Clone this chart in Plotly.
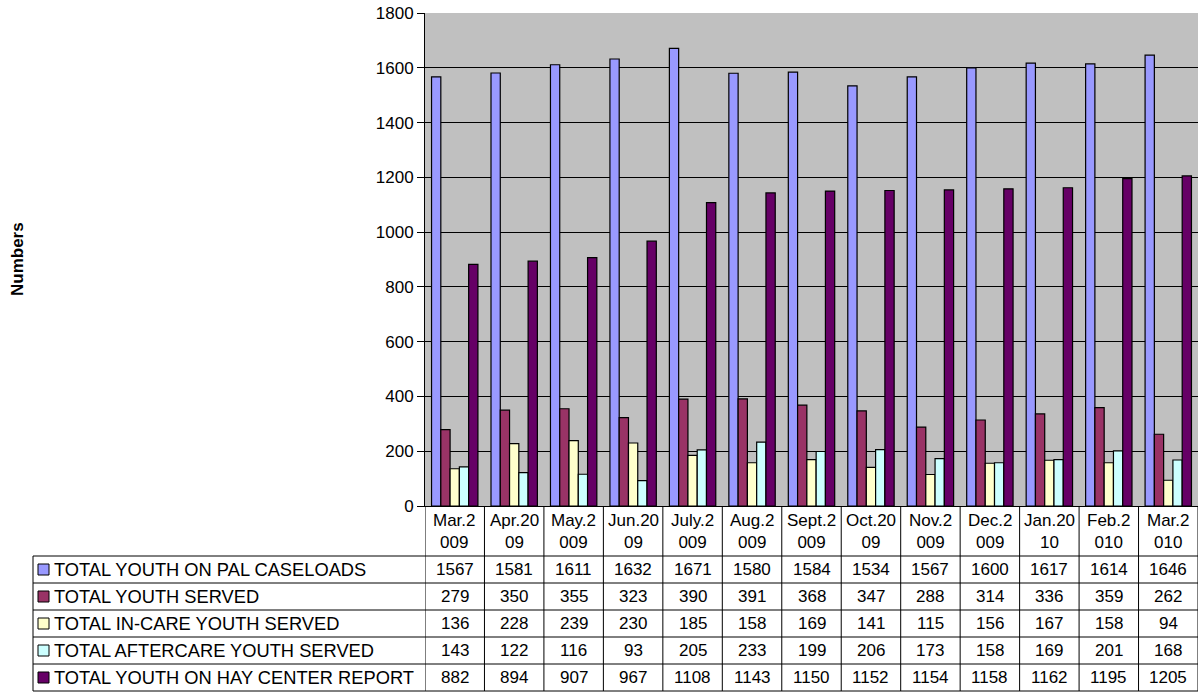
import plotly.graph_objects as go

categories = ["Mar.2009", "Apr.2009", "May.2009", "Jun.2009", "July.2009", "Aug.2009",
              "Sept.2009", "Oct.2009", "Nov.2009", "Dec.2009", "Jan.2010", "Feb.2010", "Mar.2010"]
category_labels = ["Mar.2<br>009", "Apr.20<br>09", "May.2<br>009", "Jun.20<br>09", "July.2<br>009",
                   "Aug.2<br>009", "Sept.2<br>009", "Oct.20<br>09", "Nov.2<br>009", "Dec.2<br>009",
                   "Jan.20<br>10", "Feb.2<br>010", "Mar.2<br>010"]

pal_caseloads = [1567, 1581, 1611, 1632, 1671, 1580, 1584, 1534, 1567, 1600, 1617, 1614, 1646]
youth_served = [279, 350, 355, 323, 390, 391, 368, 347, 288, 314, 336, 359, 262]
incare_served = [136, 228, 239, 230, 185, 158, 169, 141, 115, 156, 167, 158, 94]
aftercare_served = [143, 122, 116, 93, 205, 233, 199, 206, 173, 158, 169, 201, 168]
hay_center = [882, 894, 907, 967, 1108, 1143, 1150, 1152, 1154, 1158, 1162, 1195, 1205]

series_names = ["TOTAL YOUTH ON PAL CASELOADS", "TOTAL YOUTH SERVED", "TOTAL IN-CARE YOUTH SERVED",
                "TOTAL AFTERCARE YOUTH SERVED", "TOTAL YOUTH ON HAY CENTER REPORT"]
series_values = [pal_caseloads, youth_served, incare_served, aftercare_served, hay_center]
series_colors = ["#9999FF", "#993366", "#FFFFCC", "#CCFFFF", "#660066"]

y_ticks = [0, 200, 400, 600, 800, 1000, 1200, 1400, 1600, 1800]

# the page body margin is removed via post_script, so the figure fills the window
W, H = 1199, 692
PLOT_L, PLOT_R, PLOT_T, PLOT_B = 425, 1198, 13, 506
ML = PLOT_L
MT = PLOT_T
MR = W - PLOT_R
MB = H - PLOT_B
PW = PLOT_R - PLOT_L
PH = PLOT_B - PLOT_T
FONT = "Liberation Sans, Arial, sans-serif"
FS = 17


def px_x(p):
    return (p - PLOT_L) / PW


def px_y(p):
    return (PLOT_B - p) / PH


fig = go.Figure()
for name, vals, col in zip(series_names, series_values, series_colors):
    fig.add_trace(go.Bar(x=categories, y=vals, name=name,
                         marker=dict(color=col, line=dict(color="black", width=1.2))))

shapes = []
annotations = []
line_style = dict(color="black", width=1)

row_tops = [556, 583, 610, 637, 664, 691]
for ry in row_tops:
    shapes.append(dict(type="line", xref="paper", yref="paper",
                       x0=px_x(33), x1=1.0, y0=px_y(ry), y1=px_y(ry), line=line_style))
for i in range(len(categories) + 1):
    shapes.append(dict(type="line", xref="x", yref="paper",
                       x0=i - 0.5, x1=i - 0.5, y0=0, y1=px_y(691), line=line_style))
shapes.append(dict(type="line", xref="paper", yref="paper",
                   x0=px_x(33), x1=px_x(33), y0=px_y(556), y1=px_y(691), line=line_style))

for i, lab in enumerate(category_labels):
    annotations.append(dict(x=categories[i], y=px_y(531), xref="x", yref="paper",
                            text=lab, showarrow=False, xanchor="center", yanchor="middle",
                            font=dict(family=FONT, size=FS, color="black")))

for r, (name, vals, col) in enumerate(zip(series_names, series_values, series_colors)):
    cy = row_tops[r] + 13.5
    shapes.append(dict(type="rect", xref="paper", yref="paper",
                       x0=px_x(38), x1=px_x(49), y0=px_y(cy - 5.5), y1=px_y(cy + 5.5),
                       fillcolor=col, line=dict(color="black", width=1)))
    annotations.append(dict(x=px_x(52), y=px_y(cy), xref="paper", yref="paper",
                            text=name, showarrow=False, xanchor="left", yanchor="middle",
                            font=dict(family=FONT, size=18.3, color="black")))
    for i, v in enumerate(vals):
        annotations.append(dict(x=categories[i], y=px_y(cy), xref="x", yref="paper",
                                text=str(v), showarrow=False, xanchor="center", yanchor="middle",
                                font=dict(family=FONT, size=FS, color="black")))

annotations.append(dict(x=px_x(17), y=px_y(259), xref="paper", yref="paper", text="<b>Numbers</b>",
                        textangle=-90, showarrow=False, xanchor="center", yanchor="middle",
                        font=dict(family=FONT, size=17, color="black")))

fig.update_layout(
    width=W, height=H,
    margin=dict(l=ML, r=MR, t=MT, b=MB, pad=0, autoexpand=False),
    paper_bgcolor="white",
    plot_bgcolor="#C0C0C0",
    barmode="group",
    bargap=0.22,
    bargroupgap=0,
    showlegend=False,
    hovermode=False,
    font=dict(family=FONT, size=FS, color="black"),
    xaxis=dict(type="category", categoryorder="array", categoryarray=categories,
               range=[-0.5, len(categories) - 0.5], showticklabels=False, ticks="",
               showgrid=False, showline=True, linecolor="black", linewidth=1, zeroline=False,
               automargin=False),
    yaxis=dict(range=[0, 1800], tickvals=y_ticks, showgrid=True, gridcolor="black", gridwidth=1,
               showline=True, linecolor="black", linewidth=1, ticks="outside", ticklen=7,
               tickcolor="black", zeroline=False, ticklabeloverflow="allow", automargin=False,
               tickfont=dict(family=FONT, size=FS, color="black")),
    shapes=shapes,
    annotations=annotations,
)

fig.write_html("out.html", config={"displayModeBar": False, "staticPlot": True},
               post_script="document.body.style.margin='0';document.body.style.overflow='hidden';")
